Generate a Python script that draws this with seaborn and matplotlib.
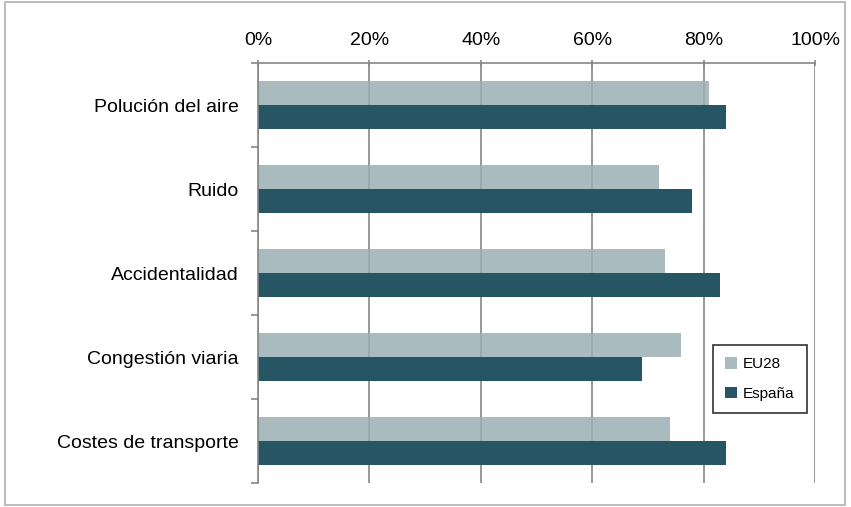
import pandas as pd
import numpy as np
import matplotlib
matplotlib.use("Agg")
import matplotlib.pyplot as plt
import seaborn as sns
from matplotlib.patches import Rectangle

# Data
categories = ['Polución del aire', 'Ruido', 'Accidentalidad', 'Congestión viaria', 'Costes de transporte']
eu28 = [81, 72, 73, 76, 74]
espana = [84, 78, 83, 69, 84]
series_names = ['EU28', 'España']
colors = ['#9bafb5', '#265563']
xticks = [0, 20, 40, 60, 80, 100]
xtick_labels = ['0%', '20%', '40%', '60%', '80%', '100%']

df = pd.DataFrame({
    'categoria': categories * 2,
    'valor': eu28 + espana,
    'serie': [series_names[0]] * len(categories) + [series_names[1]] * len(categories),
})

sns.set_style("white")
plt.rcParams['font.family'] = ['Liberation Sans', 'DejaVu Sans']
plt.rcParams['text.color'] = 'black'
plt.rcParams['xtick.labelcolor'] = 'black'
plt.rcParams['ytick.labelcolor'] = 'black'

fig = plt.figure(figsize=(8.51, 5.07), dpi=100)
ax = fig.add_axes([258 / 851, 1 - 483 / 507, (815 - 258) / 851, (483 - 63) / 507])

sns.barplot(data=df, y='categoria', x='valor', hue='serie', order=categories,
            hue_order=series_names, palette=colors, orient='h', width=0.56,
            saturation=1, linewidth=0, ax=ax, legend=True)

# light series is slightly see-through in the original (gridlines show through)
for b in ax.patches:
    if b.get_facecolor()[0] > 0.5:
        b.set_alpha(0.85)

ax.set_xlim(0, 100)
ax.set_ylim(len(categories) - 0.5, -0.5)
ax.xaxis.tick_top()
ax.set_xticks(xticks)
ax.set_xticklabels(xtick_labels, fontsize=14, color='black')
ax.tick_params(axis='x', length=4, color='#868686', width=1.2, direction='inout', pad=8)
ax.set_xlabel('')
ax.set_ylabel('')
ax.tick_params(axis='y', which='major', length=0, labelsize=14, labelcolor='black', pad=14)
ax.set_yticks(np.arange(-0.5, len(categories)), minor=True)
ax.tick_params(axis='y', which='minor', length=5, color='#868686', width=1.2, direction='out', left=True)

ax.grid(axis='x', color='#868686', linewidth=1.2)
ax.set_axisbelow(True)

for side in ['right', 'bottom']:
    ax.spines[side].set_visible(False)
for side in ['top', 'left']:
    ax.spines[side].set_color('#868686')
    ax.spines[side].set_linewidth(1.2)

leg = ax.legend(loc='upper left', bbox_to_anchor=((713 - 258) / 557, 1 - (345 - 63) / 420),
                frameon=True, fancybox=False, edgecolor='black', fontsize=11,
                handlelength=0.8, handleheight=0.8, handletextpad=0.35,
                labelspacing=1.0, borderpad=0.8, borderaxespad=0)
leg.get_frame().set_linewidth(1.2)
for t in leg.get_texts():
    t.set_color('black')
for h in leg.legend_handles:
    h.set_alpha(1)
leg.legend_handles[0].set_facecolor('#aabbc0')

# outer chart border
fig.patches.append(Rectangle((5 / 851, 2 / 507), 840 / 851, 503 / 507, transform=fig.transFigure,
                             fill=False, edgecolor='#b0b0b0', linewidth=1.2))

fig.savefig('out.png', dpi=100)
